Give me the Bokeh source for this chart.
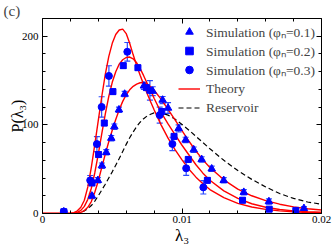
from bokeh.plotting import figure
from bokeh.models import (Range1d, LinearAxis, FixedTicker, Whisker, TeeHead,
                          ColumnDataSource, Legend, LegendItem,
                          CustomJSTickFormatter)
from bokeh.embed import file_html
from bokeh.resources import INLINE

# ---------------- data (lambda_3 given in units of 1e-3) ----------------
UNIT = 1e-3
lam_grid = [0, 1, 1.5, 2, 2.25, 2.5, 2.75, 3, 3.25, 3.5, 3.75, 4, 4.25, 4.5,
            4.75, 5, 5.25, 5.5, 5.75, 6, 6.25, 6.5, 6.75, 7, 7.25, 7.5, 7.75,
            8, 8.5, 9, 9.5, 10, 10.5, 11, 11.5, 12, 13, 14, 15, 16, 17, 18,
            19, 20]
theory_phi01 = [0, 0, 0, 0, 0.1, 0.4, 1.3, 3.3, 7, 13.5, 24, 37, 52, 67, 81,
                94, 106, 117, 126.5, 134, 139.5, 143.5, 146, 147.5, 147.5, 146,
                143, 139, 129, 117.5, 105.5, 93.5, 81.5, 70.5, 60.5, 52, 38,
                27.5, 20, 14.5, 10.5, 7.5, 5.4, 4]
theory_phi02 = [0, 0, 0, 0.1, 0.4, 1.3, 3.5, 8, 16, 28.5, 46, 67, 90, 112,
                132, 148, 160, 168.5, 173.5, 176, 176.5, 174.5, 170, 163.5,
                155.5, 147, 138.5, 130, 114, 101, 89, 77, 66, 55, 45.5, 37.5,
                25.5, 17, 11, 7, 4.5, 3, 2.1, 1.6]
theory_phi03 = [0, 0, 0, 0.3, 1.0, 3, 7, 15, 30, 52, 78, 105, 132, 157, 177,
                192, 202, 207, 208, 203, 192, 179, 167, 156, 145.5, 135.5, 126,
                117, 100, 85, 72, 60.5, 50, 41, 33.5, 27, 18, 11.5, 7.3, 4.6,
                3, 1.9, 1.2, 0.8]
reservoir = [0, 0, 0, 0, 0.05, 0.3, 1.2, 3, 5.5, 9, 14, 20, 26.5, 33, 40, 47,
             54.5, 62, 70, 78, 85.5, 92, 98, 103, 107, 110, 112, 113.5, 113.5,
             111, 106.5, 100.5, 94, 87, 80, 73, 60, 48.5, 38.5, 30, 22.5, 17,
             13, 10.5]

sim01_lam = [1.53, 3.54, 3.97, 4.26, 4.57, 4.93, 5.15, 5.48, 5.89, 7.27, 7.9,
             8.61, 9.0, 9.76, 10.26, 10.84, 11.41, 12.13, 12.99, 14.43, 16.23,
             18.74]
sim01_p = [2, 19.8, 37.4, 54, 69, 85, 98, 117, 134.7, 144, 138, 128, 119, 96,
           83, 72, 61, 50.4, 37.4, 24, 13.5, 5.8]
sim01_err = [1, 3, 3, 3, 3, 3, 3, 3, 3, 4, 5, 4, 6, 4, 3, 3, 3, 3, 3, 3, 3, 2]

sim02_lam = [1.53, 3.55, 4.02, 4.43, 5.05, 5.79, 6.84, 7.45, 7.7, 8.55, 9.43,
             10.45, 11.82, 14.34, 16.25, 18.16]
sim02_p = [2, 34.5, 66.5, 102, 137.5, 166.8, 164.5, 142, 139, 115, 87, 61,
           37.4, 15, 4.9, 3.5]
sim02_err = [1, 3, 3, 3, 3, 3, 3, 3, 11, 3, 3, 3, 3, 3, 2, 1.5]

sim03_lam = [1.53, 3.42, 3.9, 4.24, 4.76, 6.08, 8.4, 9.31, 10.3, 11.53]
sim03_p = [2, 37.4, 78.3, 120.2, 155.2, 182.4, 111, 78.5, 51, 29.5]
sim03_err = [1, 5.5, 8.4, 11.5, 11.5, 10.5, 9, 7.5, 8, 7.5]

x_major = [0, 0.01, 0.02]
x_minor = [0.002, 0.004, 0.006, 0.008, 0.012, 0.014, 0.016, 0.018]
y_major = [0, 100, 200]
y_minor = [20, 40, 60, 80, 120, 140, 160, 180, 220]

legend_labels = ["Simulation (φₙ=0.1)", "Simulation (φₙ=0.2)",
                 "Simulation (φₙ=0.3)", "Theory", "Reservoir"]
x_title = "λ₃"
y_title = "P(λ₃)"
panel_tag = "(c)"

FONT = "Liberation Serif"
BLUE = "#0000ff"
BAR = "#2a48ff"
RED = "#ff0000"


def lam(vals):
    return [v * UNIT for v in vals]


p = figure(width=332, height=248, output_backend="svg", toolbar_location=None,
           x_range=Range1d(0, 0.02), y_range=Range1d(0, 220),
           x_axis_location=None, y_axis_location=None,
           min_border_left=42, min_border_right=11, min_border_top=17,
           min_border_bottom=35)
p.xgrid.visible = False
p.ygrid.visible = False
p.outline_line_color = None
p.background_fill_color = "white"
p.border_fill_color = "white"

p.title.text = panel_tag
p.title.align = "left"
p.title.offset = -39
p.title.standoff = 0
p.title.text_font = FONT
p.title.text_font_size = "15px"
p.title.text_font_style = "normal"

blank = CustomJSTickFormatter(code="return ''")
xfmt = CustomJSTickFormatter(code="return tick == 0 ? '0' : tick.toFixed(2)")

for loc in ["below", "above", "left", "right"]:
    ax = LinearAxis()
    if loc in ("below", "above"):
        ax.ticker = FixedTicker(ticks=x_major, minor_ticks=x_minor)
    else:
        ax.ticker = FixedTicker(ticks=y_major, minor_ticks=y_minor)
    ax.major_tick_in = 5
    ax.major_tick_out = 0
    ax.minor_tick_in = 3
    ax.minor_tick_out = 0
    ax.axis_line_color = "black"
    ax.major_tick_line_color = "black"
    ax.minor_tick_line_color = "black"
    ax.axis_line_width = 1
    ax.major_label_text_font = FONT
    ax.major_label_text_font_size = "11px"
    ax.major_label_text_color = "black"
    ax.axis_label_text_font = FONT
    ax.axis_label_text_font_style = "normal"
    ax.axis_label_text_color = "black"
    if loc == "below":
        ax.formatter = xfmt
        ax.major_label_standoff = 2
        ax.axis_label = x_title
        ax.axis_label_text_font_size = "17px"
        ax.axis_label_standoff = 0
    elif loc == "left":
        ax.major_label_standoff = 4
        ax.axis_label = y_title
        ax.axis_label_text_font_size = "16px"
        ax.axis_label_standoff = -7
    else:
        ax.formatter = blank
        ax.major_label_standoff = 0
    p.add_layout(ax, loc)

# curves
r_res = p.line(lam(lam_grid), reservoir, line_color="black", line_width=1.2,
               line_dash="5 3")
r_t1 = p.line(lam(lam_grid), theory_phi01, line_color=RED, line_width=1.4)
r_t2 = p.line(lam(lam_grid), theory_phi02, line_color=RED, line_width=1.4)
r_t3 = p.line(lam(lam_grid), theory_phi03, line_color=RED, line_width=1.4)

# simulations with error bars
renderers = []
for xs, ys, es, marker, size in [
        (sim01_lam, sim01_p, sim01_err, "triangle", 7.5),
        (sim02_lam, sim02_p, sim02_err, "square", 6),
        (sim03_lam, sim03_p, sim03_err, "circle", 7)]:
    src = ColumnDataSource(dict(x=lam(xs), y=ys,
                                upper=[a + b for a, b in zip(ys, es)],
                                lower=[a - b for a, b in zip(ys, es)]))
    w = Whisker(source=src, base="x", upper="upper", lower="lower",
                dimension="height", line_color=BAR, line_width=1.2,
                upper_head=TeeHead(size=6, line_color=BAR, line_width=1.2),
                lower_head=TeeHead(size=6, line_color=BAR, line_width=1.2))
    p.add_layout(w)
    r = p.scatter("x", "y", source=src, marker=marker, size=size,
                  fill_color=BLUE, line_color=BLUE)
    renderers.append(r)

legend = Legend(items=[
    LegendItem(label=legend_labels[0], renderers=[renderers[0]]),
    LegendItem(label=legend_labels[1], renderers=[renderers[1]]),
    LegendItem(label=legend_labels[2], renderers=[renderers[2]]),
    LegendItem(label=legend_labels[3], renderers=[r_t3]),
    LegendItem(label=legend_labels[4], renderers=[r_res]),
], location=(136, 96), border_line_color=None, background_fill_alpha=0,
    label_text_font=FONT, label_text_font_size="13.5px",
    glyph_width=22, glyph_height=19, label_height=19, label_standoff=6,
    spacing=0, padding=4, margin=0)
p.add_layout(legend)

open("out.html", "w").write(file_html(p, INLINE))
